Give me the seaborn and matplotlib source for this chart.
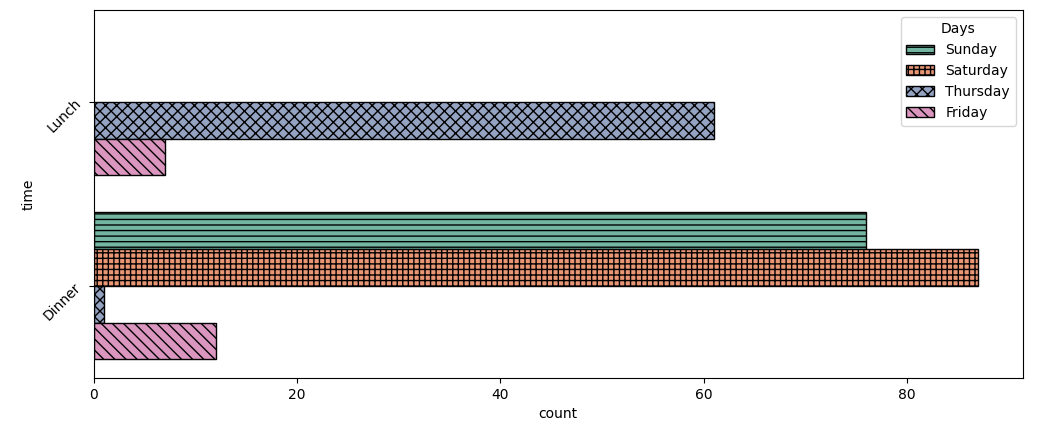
import pandas as pd
import matplotlib
matplotlib.use("Agg")
import matplotlib.pyplot as plt
import seaborn as sns

times = ["Lunch", "Lunch", "Dinner", "Dinner", "Dinner", "Dinner"]
days = ["Thursday", "Friday", "Sunday", "Saturday", "Thursday", "Friday"]
counts = [61, 7, 76, 87, 1, 12]

day_order = ["Sunday", "Saturday", "Thursday", "Friday"]
time_order = ["Lunch", "Dinner"]
hatches = ["---", "+++", "xxx", "\\\\\\"]

df = pd.DataFrame({"time": times, "day": days, "count": counts})

fig, ax = plt.subplots(figsize=(10.64, 4.26), dpi=100)
fig.subplots_adjust(left=0.088, right=0.961, top=0.977, bottom=0.113)

sns.barplot(data=df, y="time", x="count", hue="day", order=time_order,
            hue_order=day_order, palette="Set2", edgecolor="black", ax=ax)

# hatch each day's bars
for cont, h in zip(ax.containers, hatches):
    for bar in cont:
        bar.set_hatch(h)

handles, labels = ax.get_legend_handles_labels()
for hd, h in zip(handles, hatches):
    hd.set_hatch(h)
    hd.set_edgecolor("black")
ax.legend(handles, labels, title="Days", loc="upper right")

ax.set_yticks(ax.get_yticks())
ax.set_yticklabels(time_order, rotation=45)
ax.set_xlabel("count")
ax.set_ylabel("time")

plt.savefig("out.png", dpi=100)
